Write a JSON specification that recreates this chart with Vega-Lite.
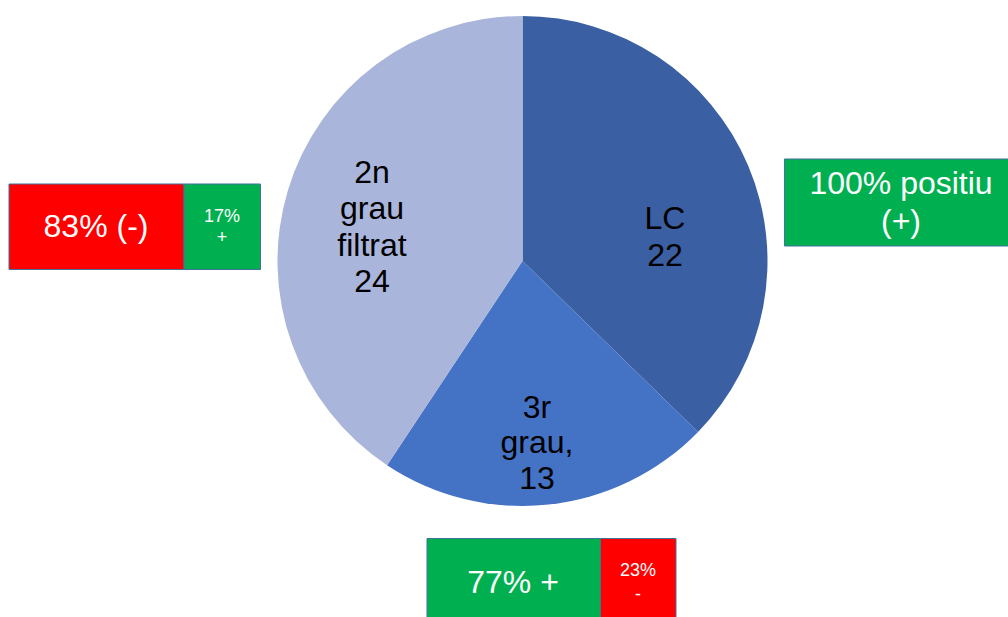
{
  "$schema": "https://vega.github.io/schema/vega-lite/v6.json",
  "width": 1008,
  "height": 617,
  "autosize": "none",
  "padding": 0,
  "background": "white",
  "config": {
    "view": {"stroke": null},
    "axis": {"disable": true},
    "legend": {"disable": true},
    "text": {"font": "Liberation Sans"}
  },
  "datasets": {
    "segments": [
      {"grup": "LC", "casos": 22, "ordre": 1, "etiqueta": "LC\n22"},
      {"grup": "3r grau", "casos": 13, "ordre": 2, "etiqueta": "3r\ngrau,\n13"},
      {"grup": "2n grau filtrat", "casos": 24, "ordre": 3, "etiqueta": "2n\ngrau\nfiltrat\n24"}
    ],
    "resultats": [
      {"grup": "2n grau filtrat", "resultat": "-", "pct": 83, "text": "83% (-)"},
      {"grup": "2n grau filtrat", "resultat": "+", "pct": 17, "text": "17%\n+"},
      {"grup": "LC", "resultat": "+", "pct": 100, "text": "100% positiu\n(+)"},
      {"grup": "3r grau", "resultat": "+", "pct": 77, "text": "77% +"},
      {"grup": "3r grau", "resultat": "-", "pct": 23, "text": "23%\n-"}
    ]
  },
  "layer": [
    {
      "data": {"name": "segments"},
      "mark": {"type": "arc", "outerRadius": 245},
      "encoding": {
        "x": {"datum": 522.5, "type": "quantitative", "scale": {"domain": [0, 1008], "nice": false, "zero": false}},
        "y": {"datum": 261, "type": "quantitative", "scale": {"domain": [0, 617], "nice": false, "zero": false, "reverse": true}},
        "theta": {"field": "casos", "type": "quantitative", "stack": true},
        "order": {"field": "ordre", "type": "quantitative"},
        "color": {"field": "grup", "type": "nominal", "scale": {"domain": ["LC", "3r grau", "2n grau filtrat"], "range": ["#3A5FA2", "#4472C4", "#A9B5DA"]}}
      }
    },
    {
      "data": {"name": "segments"},
      "transform": [{"filter": "datum.grup === 'LC'"}],
      "mark": {"type": "text", "fontSize": 32, "lineHeight": 37, "lineBreak": "\n", "baseline": "middle", "align": "center", "color": "#000000"},
      "encoding": {"x": {"datum": 665, "type": "quantitative"}, "y": {"datum": 219, "type": "quantitative"}, "text": {"field": "etiqueta"}}
    },
    {
      "data": {"name": "segments"},
      "transform": [{"filter": "datum.grup === '3r grau'"}],
      "mark": {"type": "text", "fontSize": 32, "lineHeight": 35.5, "lineBreak": "\n", "baseline": "middle", "align": "center", "color": "#000000"},
      "encoding": {"x": {"datum": 537, "type": "quantitative"}, "y": {"datum": 407.5, "type": "quantitative"}, "text": {"field": "etiqueta"}}
    },
    {
      "data": {"name": "segments"},
      "transform": [{"filter": "datum.grup === '2n grau filtrat'"}],
      "mark": {"type": "text", "fontSize": 32, "lineHeight": 36.5, "lineBreak": "\n", "baseline": "middle", "align": "center", "color": "#000000"},
      "encoding": {"x": {"datum": 372, "type": "quantitative"}, "y": {"datum": 172.5, "type": "quantitative"}, "text": {"field": "etiqueta"}}
    },
    {
      "data": {"name": "resultats"},
      "transform": [{"filter": "datum.grup === '2n grau filtrat' && datum.resultat === '-'"}],
      "mark": {"type": "rect", "stroke": "#41719C", "strokeWidth": 1},
      "encoding": {
        "x": {"datum": 9, "type": "quantitative"}, "x2": {"datum": 184},
        "y": {"datum": 184, "type": "quantitative"}, "y2": {"datum": 269.5},
        "fill": {"field": "resultat", "type": "nominal", "scale": {"domain": ["+", "-"], "range": ["#00B050", "#FF0000"]}}
      }
    },
    {
      "data": {"name": "resultats"},
      "transform": [{"filter": "datum.grup === '2n grau filtrat' && datum.resultat === '+'"}],
      "mark": {"type": "rect", "stroke": "#41719C", "strokeWidth": 1},
      "encoding": {
        "x": {"datum": 184, "type": "quantitative"}, "x2": {"datum": 260.5},
        "y": {"datum": 184, "type": "quantitative"}, "y2": {"datum": 269.5},
        "fill": {"field": "resultat", "type": "nominal"}
      }
    },
    {
      "data": {"name": "resultats"},
      "transform": [{"filter": "datum.grup === 'LC'"}],
      "mark": {"type": "rect", "stroke": "#41719C", "strokeWidth": 1},
      "encoding": {
        "x": {"datum": 784.5, "type": "quantitative"}, "x2": {"datum": 1018},
        "y": {"datum": 159, "type": "quantitative"}, "y2": {"datum": 246},
        "fill": {"field": "resultat", "type": "nominal"}
      }
    },
    {
      "data": {"name": "resultats"},
      "transform": [{"filter": "datum.grup === '3r grau' && datum.resultat === '+'"}],
      "mark": {"type": "rect", "stroke": "#41719C", "strokeWidth": 1},
      "encoding": {
        "x": {"datum": 427, "type": "quantitative"}, "x2": {"datum": 600.5},
        "y": {"datum": 538.5, "type": "quantitative"}, "y2": {"datum": 628},
        "fill": {"field": "resultat", "type": "nominal"}
      }
    },
    {
      "data": {"name": "resultats"},
      "transform": [{"filter": "datum.grup === '3r grau' && datum.resultat === '-'"}],
      "mark": {"type": "rect", "stroke": "#41719C", "strokeWidth": 1},
      "encoding": {
        "x": {"datum": 600.5, "type": "quantitative"}, "x2": {"datum": 676},
        "y": {"datum": 538.5, "type": "quantitative"}, "y2": {"datum": 628},
        "fill": {"field": "resultat", "type": "nominal"}
      }
    },
    {
      "data": {"name": "resultats"},
      "transform": [{"filter": "datum.grup === '2n grau filtrat' && datum.resultat === '-'"}],
      "mark": {"type": "text", "fontSize": 32, "baseline": "middle", "align": "center", "color": "#FFFFFF"},
      "encoding": {"x": {"datum": 96, "type": "quantitative"}, "y": {"datum": 227, "type": "quantitative"}, "text": {"field": "text"}}
    },
    {
      "data": {"name": "resultats"},
      "transform": [{"filter": "datum.grup === '2n grau filtrat' && datum.resultat === '+'"}],
      "mark": {"type": "text", "fontSize": 18, "lineHeight": 21, "lineBreak": "\n", "baseline": "middle", "align": "center", "color": "#FFFFFF"},
      "encoding": {"x": {"datum": 222, "type": "quantitative"}, "y": {"datum": 216.5, "type": "quantitative"}, "text": {"field": "text"}}
    },
    {
      "data": {"name": "resultats"},
      "transform": [{"filter": "datum.grup === 'LC'"}],
      "mark": {"type": "text", "fontSize": 32, "lineHeight": 38, "lineBreak": "\n", "baseline": "middle", "align": "center", "color": "#FFFFFF"},
      "encoding": {"x": {"datum": 901, "type": "quantitative"}, "y": {"datum": 184, "type": "quantitative"}, "text": {"field": "text"}}
    },
    {
      "data": {"name": "resultats"},
      "transform": [{"filter": "datum.grup === '3r grau' && datum.resultat === '+'"}],
      "mark": {"type": "text", "fontSize": 32, "baseline": "middle", "align": "center", "color": "#FFFFFF"},
      "encoding": {"x": {"datum": 513, "type": "quantitative"}, "y": {"datum": 583, "type": "quantitative"}, "text": {"field": "text"}}
    },
    {
      "data": {"name": "resultats"},
      "transform": [{"filter": "datum.grup === '3r grau' && datum.resultat === '-'"}],
      "mark": {"type": "text", "fontSize": 18, "lineHeight": 24, "lineBreak": "\n", "baseline": "middle", "align": "center", "color": "#FFFFFF"},
      "encoding": {"x": {"datum": 638, "type": "quantitative"}, "y": {"datum": 570.5, "type": "quantitative"}, "text": {"field": "text"}}
    }
  ]
}
